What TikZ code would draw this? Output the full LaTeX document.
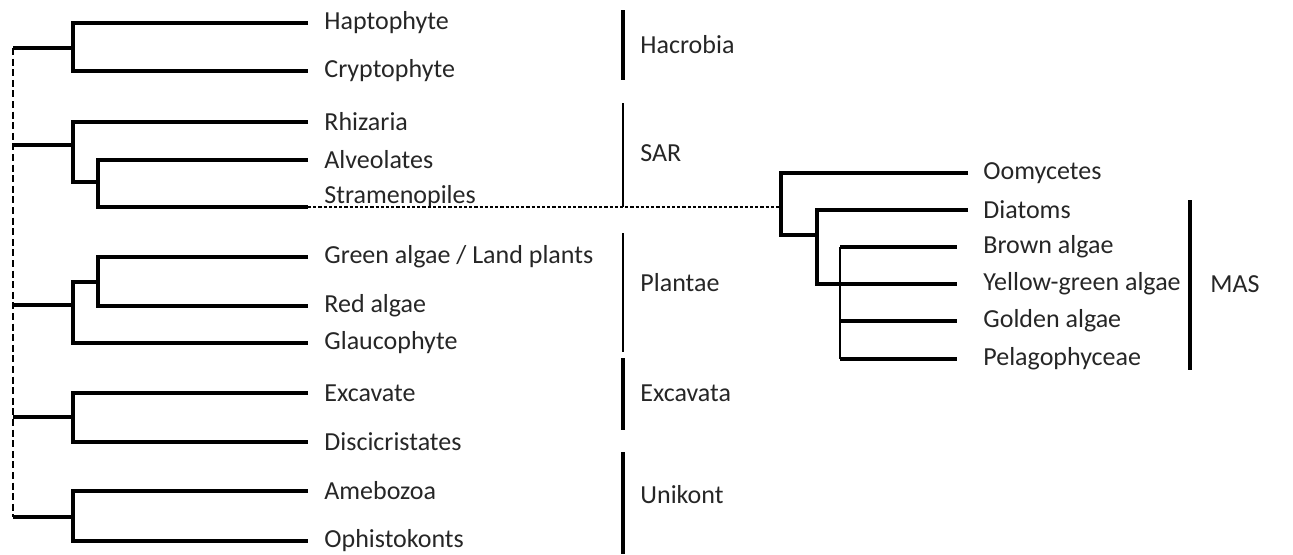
\documentclass[tikz,border=0pt]{standalone}
\usepackage{fontspec}
\setmainfont{Carlito}
\usetikzlibrary{positioning}

\tikzset{
  branch/.style={line width=1.7pt},
  thinbranch/.style={line width=1.1pt},
  rootdash/.style={line width=1.2pt, dash pattern=on 3.5pt off 1.8pt},
  linkdash/.style={line width=0.55pt, dash pattern=on 1.6pt off 1pt},
  groupbar/.style={line width=1.7pt},
  thinbar/.style={line width=1.1pt},
  taxon/.style={anchor=west, inner xsep=8pt, inner ysep=0pt},
  rtaxon/.style={anchor=west, inner xsep=7.5pt, inner ysep=0pt},
  grouplab/.style={anchor=west, inner sep=0pt}
}

\begin{document}
\begin{tikzpicture}[x=0.5pt,y=-0.5pt,line join=miter,line cap=butt]
  \tikzset{every node/.style={font=\fontsize{13}{15}\selectfont, text=black!85}}
  \useasboundingbox (0,0) rectangle (1293,554);

  % leaves, left tree
  \node[taxon] (hapt) at (308,23) {Haptophyte};
  \node[taxon] (cryp) at (308,71) {Cryptophyte};
  \node[taxon] (rhiz) at (308,122) {Rhizaria};
  \node[taxon] (alve) at (308,160) {Alveolates};
  \node[taxon] (stram) at (308,197) {Stramenopiles};
  \coordinate (stra) at (308,207);
  \node[taxon] (gree) at (308,257) {Green algae / Land plants};
  \node[taxon] (reda) at (308,306) {Red algae};
  \node[taxon] (glau) at (308,343) {Glaucophyte};
  \node[taxon] (exca) at (308,393) {Excavate};
  \node[taxon] (disc) at (308,442) {Discicristates};
  \node[taxon] (amoe) at (308,491) {Amebozoa};
  \node[taxon] (opis) at (308,541) {Ophistokonts};

  % inner nodes
  \coordinate (roottop) at (13,48);
  \coordinate (rootsar) at (13,145);
  \coordinate (rootpla) at (13,305);
  \coordinate (rootexc) at (13,417);
  \coordinate (rootbot) at (13,517);
  \coordinate (hacIn) at (73,48);
  \coordinate (sarIn) at (73,145);
  \coordinate (asIn) at (98,182);
  \coordinate (plaIn) at (73,305);
  \coordinate (grIn) at (98,282);
  \coordinate (excIn) at (73,417);
  \coordinate (uniIn) at (73,517);

  \draw[rootdash] (roottop) -- (rootbot);
  \draw[branch] (roottop) -- (hacIn);
  \draw[branch] (rootsar) -- (sarIn);
  \draw[branch] (rootpla) -- (plaIn);
  \draw[branch] (rootexc) -- (excIn);
  \draw[branch] (rootbot) -- (uniIn);

  \draw[branch] (hapt.west) -| (hacIn) |- (cryp.west);
  \draw[branch] (rhiz.west) -| (sarIn) |- (asIn);
  \draw[branch] (alve.west) -| (asIn) |- (stra);
  \draw[branch] (gree.west) -| (grIn) |- (reda.west);
  \draw[branch] (grIn) -| (plaIn) |- (glau.west);
  \draw[branch] (exca.west) -| (excIn) |- (disc.west);
  \draw[branch] (amoe.west) -| (uniIn) |- (opis.west);

  % groups
  \draw[groupbar] (623,10) -- (623,80);
  \node[grouplab] (hacr) at (640,45) {Hacrobia};
  \draw[thinbar] (623,103) -- (623,207);
  \node[grouplab] (sar) at (640,153) {SAR};
  \draw[thinbar] (623,233) -- (623,352);
  \node[grouplab] (plan) at (640,283) {Plantae};
  \draw[groupbar] (623,358) -- (623,430);
  \node[grouplab] (excv) at (640,393) {Excavata};
  \draw[groupbar] (623,452) -- (623,554);
  \node[grouplab] (unik) at (640,495) {Unikont};

  % stramenopiles, right tree
  \node[rtaxon] (oomy) at (968,173) {Oomycetes};
  \node[rtaxon] (diat) at (968,210) {Diatoms};
  \node[rtaxon] (brow) at (968,247) {Brown algae};
  \node[rtaxon] (yell) at (968,284) {Yellow-green algae};
  \node[rtaxon] (gold) at (968,321) {Golden algae};
  \node[rtaxon] (pela) at (968,359) {Pelagophyceae};

  \coordinate (strIn) at (781,207);
  \coordinate (diaIn) at (817,235);
  \coordinate (polyTop) at (840,247);
  \coordinate (polyBot) at (840,359);
  \coordinate (polyMid) at (840,321);

  \draw[linkdash] (stra) -- (strIn);
  \draw[branch] (oomy.west) -| (strIn) |- (diaIn);
  \draw[branch] (diat.west) -| (diaIn) |- ([xshift=-5.5pt]yell.west);
  \draw[thinbranch] (polyTop) -- (polyBot);
  \draw[branch] (polyTop) -- ([xshift=-5.5pt]brow.west);
  \draw[branch] (polyMid) -- ([xshift=-5.5pt]gold.west);
  \draw[branch] (polyBot) -- ([xshift=-5.5pt]pela.west);

  \draw[groupbar] (1190,200) -- (1190,370);
  \node[grouplab] (mas) at (1210,284) {MAS};
\end{tikzpicture}
\end{document}
